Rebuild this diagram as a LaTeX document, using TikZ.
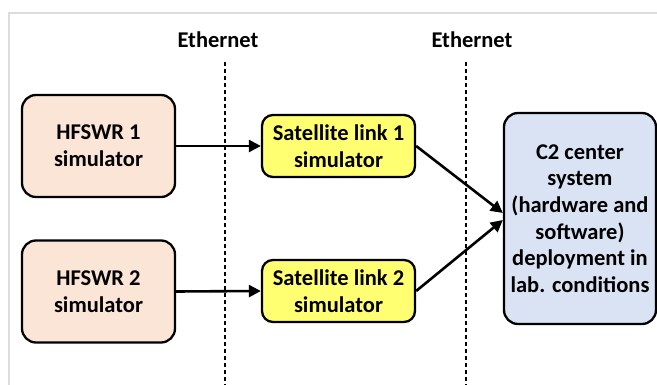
\documentclass[tikz,border=0pt]{standalone}
\usepackage{fontspec}
\setmainfont{Carlito}
\usetikzlibrary{arrows.meta}
\definecolor{peach}{HTML}{FBE5D6}
\definecolor{satyellow}{HTML}{FFFF71}
\definecolor{paleblue}{HTML}{DAE3F3}
\definecolor{framegray}{HTML}{DCDCDC}
\tikzset{
  block/.style={draw=black, line width=2.3pt, rounded corners=14pt, align=center,
    font=\fontsize{22.5}{26.6}\selectfont\bfseries, inner sep=2pt},
  hfbox/.style={block, fill=peach, minimum width=153pt, minimum height=102pt},
  satbox/.style={block, fill=satyellow, rounded corners=11pt, minimum width=153pt, minimum height=62pt},
  c2box/.style={block, fill=paleblue, minimum width=152pt, minimum height=211pt},
  flow/.style={line width=2.6pt, -{Triangle[length=12pt,width=12pt]}},
  netline/.style={line width=2.8pt, dash pattern=on 4pt off 3pt},
  netlabel/.style={font=\fontsize{22.5}{26.6}\selectfont\bfseries}
}
\begin{document}
\begin{tikzpicture}[x=1pt, y=-1pt]
  \useasboundingbox (0,0) rectangle (657,385);
  \fill[white] (0,0) rectangle (657,385);
  % frame edges
  \draw[framegray, line width=1.8pt] (9,385) -- (9,13) -- (657,13);

  % Ethernet boundaries
  \node[netlabel] (eth1) at (218,40) {Ethernet};
  \node[netlabel] (eth2) at (472,40) {Ethernet};
  \coordinate (d1top) at (225,62);
  \coordinate (d1bot) at (225,385);
  \coordinate (d2top) at (466,62);
  \coordinate (d2bot) at (466,385);
  \draw[netline] (d1top) -- (d1bot);
  \draw[netline] (d2top) -- (d2bot);

  % blocks
  \node[hfbox] (h1) at (98.5,146) {HFSWR 1\\simulator};
  \node[hfbox] (h2) at (98.5,291.5) {HFSWR 2\\simulator};
  \node[satbox] (s1) at (338.5,146) {Satellite link 1\\simulator};
  \node[satbox] (s2) at (338.5,291) {Satellite link 2\\simulator};
  \node[c2box] (c2) at (580,218.5) {C2 center\\system\\(hardware and\\software)\\deployment in\\lab. conditions};

  % data flow
  \draw[flow] (h1.east) -- (s1.west);
  \draw[flow] (h2.east) -- (s2.west);
  \draw[flow] (s1.east) -- ([yshift=5.5pt]c2.west);
  \draw[flow] (s2.east) -- ([yshift=-1.5pt]c2.west);
\end{tikzpicture}
\end{document}
